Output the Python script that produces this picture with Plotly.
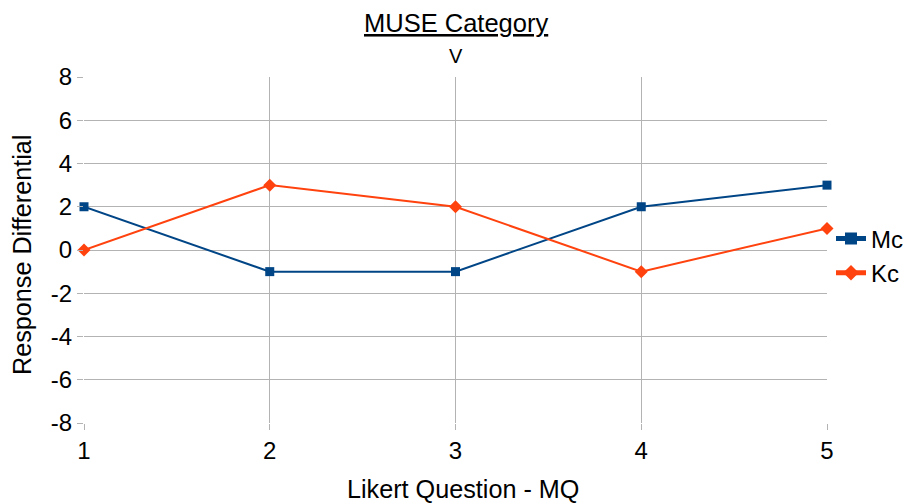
import plotly.graph_objects as go

questions = [1, 2, 3, 4, 5]
mc_values = [2, -1, -1, 2, 3]
kc_values = [0, 3, 2, -1, 1]
y_ticks = [-8, -6, -4, -2, 0, 2, 4, 6, 8]
y_tick_labels = [str(v) for v in y_ticks]  # plain hyphen for negatives

FONT = "Liberation Sans, Arial, sans-serif"
GRID = "#b3b3b3"
W, H = 909, 503
L, R, T, B = 84, 82, 77, 80
plot_w, plot_h = W - L - R, H - T - B


def px_x(px):
    return (px - L) / plot_w


def px_y(py):
    return 1 - (py - T) / plot_h


fig = go.Figure()
fig.add_trace(go.Scatter(
    x=questions, y=mc_values, name="Mc", mode="lines+markers",
    line=dict(color="#004586", width=2),
    marker=dict(symbol="square", size=9, color="#004586"),
    cliponaxis=False,
))
fig.add_trace(go.Scatter(
    x=questions, y=kc_values, name="Kc", mode="lines+markers",
    line=dict(color="#ff420e", width=2),
    marker=dict(symbol="diamond", size=10, color="#ff420e"),
    cliponaxis=False,
))

fig.update_layout(
    width=W, height=H,
    margin=dict(l=L, r=R, t=T, b=B, autoexpand=False),
    paper_bgcolor="white", plot_bgcolor="white",
    font=dict(family=FONT, size=24, color="black"),
    showlegend=True,
    legend=dict(xref="container", yref="container",
                x=831 / W, xanchor="left", y=1 - 256 / H, yanchor="middle",
                font=dict(size=24), itemwidth=30, itemsizing="constant",
                tracegroupgap=0, bgcolor="rgba(0,0,0,0)"),
    annotations=[
        dict(text="<u>MUSE Category</u>", x=0.5, xref="paper",
             y=px_y(23), yref="paper", yanchor="middle",
             showarrow=False, font=dict(size=25.5)),
        dict(text="V", x=0.5, xref="paper",
             y=px_y(56), yref="paper", yanchor="middle",
             showarrow=False, font=dict(size=20)),
        dict(text="Likert Question - MQ", x=px_x(463), xref="paper",
             y=px_y(489), yref="paper", xanchor="center", yanchor="middle",
             showarrow=False, font=dict(size=25.2)),
        dict(text="Response Differential", x=px_x(22), xref="paper",
             y=px_y(255), yref="paper", xanchor="center", yanchor="middle",
             textangle=-90, showarrow=False, font=dict(size=25.2)),
    ],
)

fig.update_xaxes(
    range=[1, 5], tickvals=questions, showgrid=True, gridcolor=GRID, gridwidth=1,
    zeroline=False, showline=False, ticks="outside", ticklen=6, tickcolor=GRID,
    tickfont=dict(size=24), automargin=False,
)
fig.update_yaxes(
    range=[-8, 8], tickvals=y_ticks, ticktext=y_tick_labels,
    showgrid=True, gridcolor=GRID, gridwidth=1,
    zeroline=False, showline=False, ticks="outside", ticklen=6, tickcolor=GRID,
    tickfont=dict(size=24), automargin=False,
)

fig.write_html("out.html")
